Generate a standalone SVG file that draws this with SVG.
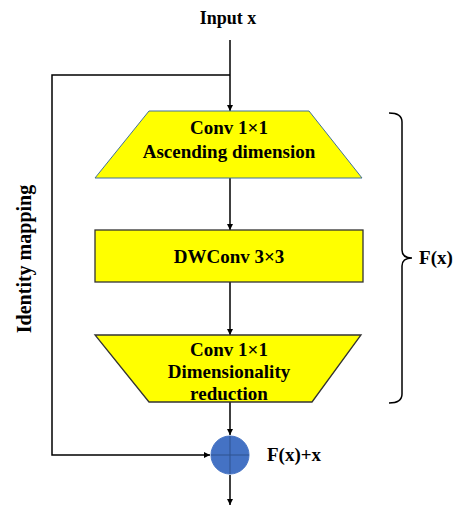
<svg xmlns="http://www.w3.org/2000/svg" width="459" height="506" viewBox="0 0 459 506">
<defs>
<marker id="arr" viewBox="0 0 10 10" refX="10" refY="5" markerWidth="6" markerHeight="6" orient="auto" markerUnits="userSpaceOnUse">
<path d="M0,0 L10,5 L0,10 z" fill="#000"/>
</marker>
<style>
text{font-family:"Liberation Serif","Times New Roman",serif;font-weight:bold;font-size:19px;fill:#000;text-anchor:middle}
.ln{stroke:#000;stroke-width:1.5;fill:none}
.trap{fill:#FFFF00;stroke:#41719C;stroke-width:1}
.box{fill:#FFFF00;stroke:#333;stroke-width:1.3}
</style>
</defs>
<rect width="459" height="506" fill="#fff"/>
<g id="connectors">
<path class="ln" d="M230,40 V111" marker-end="url(#arr)"/>
<path class="ln" d="M230,75 H52 V455 H210" marker-end="url(#arr)"/>
<path class="ln" d="M230,178 V230" marker-end="url(#arr)"/>
<path class="ln" d="M230,282 V335" marker-end="url(#arr)"/>
<path class="ln" d="M230,402 V435" marker-end="url(#arr)"/>
<path class="ln" d="M230,475 V505" marker-end="url(#arr)"/>
</g>
<g id="input"><text x="228" y="24" style="font-size:18px">Input x</text></g>
<g id="conv1">
<polygon class="trap" points="149,111 309,111 362,178 95,178"/>
<text x="229" y="134">Conv 1×1</text>
<text x="229" y="158">Ascending dimension</text>
</g>
<g id="dwconv">
<rect class="box" x="95" y="230" width="268" height="52"/>
<text x="229" y="263">DWConv 3×3</text>
</g>
<g id="conv2">
<polygon class="box" points="95,335 361,335 312,402 149,402"/>
<text x="229" y="356">Conv 1×1</text>
<text x="229" y="378">Dimensionality</text>
<text x="229" y="400">reduction</text>
</g>
<g id="sum">
<circle cx="230" cy="455" r="19" fill="#4472C4" stroke="#4472C4"/>
<path d="M230,436 V474 M211,455 H249" stroke="#2F528F" stroke-width="1"/>
<text x="294" y="461">F(x)+x</text>
</g>
<g id="brace">
<path class="ln" stroke-width="1.3" d="M389,113 Q402,113 402,122 V250 Q402,258 412,258 Q402,258 402,266 V394 Q402,403 389,403"/>
<text x="436" y="264">F(x)</text>
</g>
<g id="identity">
<text transform="translate(31,259) rotate(-90)" style="font-size:20px">Identity mapping</text>
</g>
</svg>
